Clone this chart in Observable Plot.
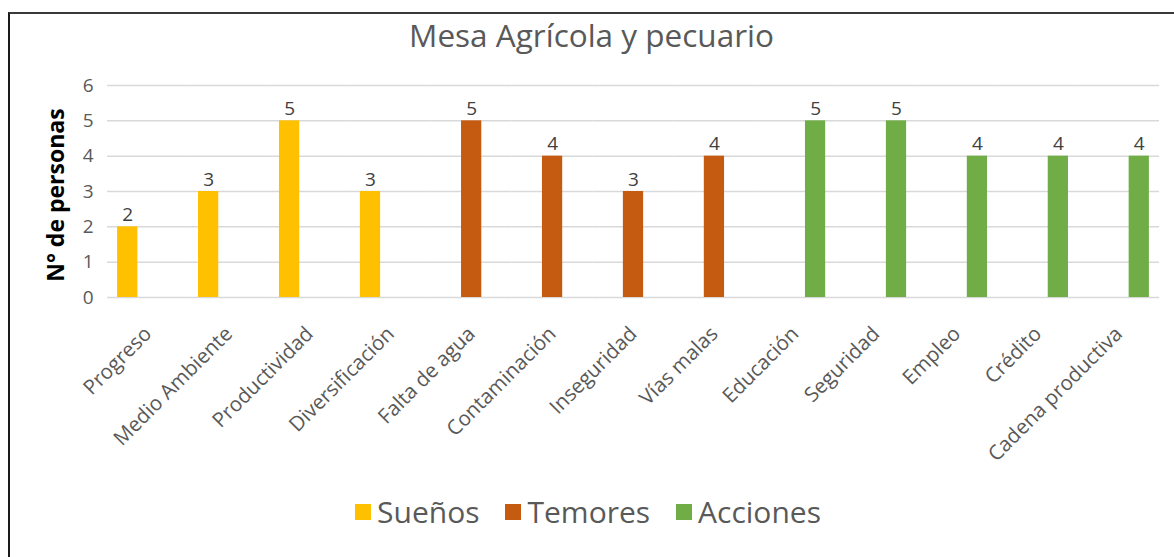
<!DOCTYPE html>
<html>
<head>
<meta charset="utf-8">
<script src="https://cdn.jsdelivr.net/npm/d3@7"></script>
<script src="https://cdn.jsdelivr.net/npm/@observablehq/plot@0.6"></script>
<style>
  html, body { margin: 0; padding: 0; background: #fff; }
  #page { position: relative; width: 1174px; height: 557px; overflow: hidden; font-family: "Open Sans", sans-serif; }
  #frame { position: absolute; left: 8px; top: 12px; width: 2000px; height: 1000px; border-top: 2px solid #3a3a3a; border-left: 2px solid #1a1a1a; }
  #title { position: absolute; left: 0; width: 1183px; top: 20px; text-align: center; font-size: 31.5px; line-height: 30px; color: #595959; white-space: nowrap; }
  #ylabel { position: absolute; left: 55px; top: 195px; transform: translate(-50%, -50%) rotate(-90deg); font-size: 23px; font-weight: bold; color: #000; white-space: nowrap; }
  #chart { position: absolute; left: 0; top: 60px; }
  #legend { position: absolute; left: 0; width: 1174px; top: 497px; height: 30px; display: flex; justify-content: center; align-items: center; gap: 26px; padding-left: 2px; box-sizing: border-box; }
  .item { display: flex; align-items: center; gap: 6px; font-size: 30px; line-height: 30px; color: #595959; }
  .sw { width: 16px; height: 16px; display: inline-block; }
</style>
</head>
<body>
<div id="page">
  <div id="frame"></div>
  <div id="title">Mesa Agrícola y pecuario</div>
  <div id="ylabel">N° de personas</div>
  <div id="chart"></div>
  <div id="legend"></div>
</div>
<script>
const categories = ["Progreso", "Medio Ambiente", "Productividad", "Diversificación", "Falta de agua", "Contaminación", "Inseguridad", "Vías malas", "Educación", "Seguridad", "Empleo", "Crédito", "Cadena productiva"];
const groups = ["Sueños", "Sueños", "Sueños", "Sueños", "Temores", "Temores", "Temores", "Temores", "Acciones", "Acciones", "Acciones", "Acciones", "Acciones"];
const values = [2, 3, 5, 3, 5, 4, 3, 4, 5, 5, 4, 4, 4];
const series = ["Sueños", "Temores", "Acciones"];
const colors = ["#FFC000", "#C55A11", "#70AD47"];
const yTicks = [0, 1, 2, 3, 4, 5, 6];

const data = categories.map((c, i) => ({category: c, serie: groups[i], value: values[i]}));

const chart = Plot.plot({
  width: 1174,
  height: 420,
  marginLeft: 107,
  marginRight: 15,
  marginTop: 25,
  marginBottom: 183,
  style: {fontFamily: "Open Sans, sans-serif", background: "transparent", overflow: "visible"},
  fx: {domain: categories, padding: 0, round: false, axis: null, label: null},
  x: {domain: series, paddingInner: 0, paddingOuter: 0.5, round: false, axis: null},
  y: {domain: [0, 6], axis: null},
  color: {domain: series, range: colors},
  marks: [
    Plot.gridY(yTicks, {stroke: "#d9d9d9", strokeOpacity: 1, strokeWidth: 1.5}),
    Plot.barY(data, {fx: "category", x: "serie", y: "value", fill: "serie"}),
    Plot.text(data, {fx: "category", x: "serie", y: "value", text: d => String(d.value), dy: -12, fill: "#404040", fontSize: 19}),
    Plot.axisY(yTicks, {tickSize: 0, tickPadding: 14, fontSize: 19, fill: "#595959", label: null, tickFormat: d => String(d)}),
    Plot.axisFx({anchor: "bottom", tickRotate: -45, tickSize: 0, tickPadding: 33, fontSize: 20.5, fill: "#595959", label: null})
  ]
});
document.getElementById("chart").appendChild(chart);

const legend = document.getElementById("legend");
series.forEach((s, i) => {
  const item = document.createElement("div");
  item.className = "item";
  const sw = document.createElement("span");
  sw.className = "sw";
  sw.style.background = colors[i];
  const t = document.createElement("span");
  t.textContent = s;
  item.appendChild(sw);
  item.appendChild(t);
  legend.appendChild(item);
});
</script>
</body>
</html>
